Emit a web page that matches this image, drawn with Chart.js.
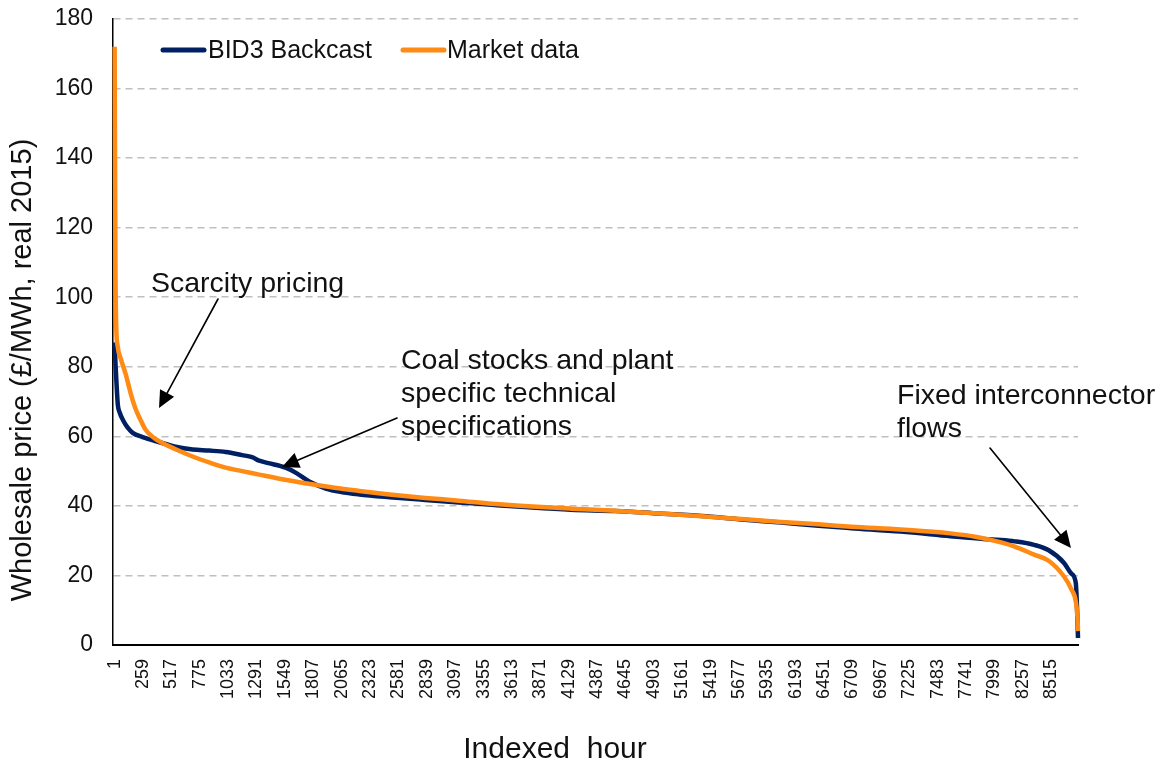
<!DOCTYPE html>
<html>
<head>
<meta charset="utf-8">
<script src="https://cdn.jsdelivr.net/npm/chart.js@4.4.1/dist/chart.umd.min.js"></script>
<style>
  html, body { margin: 0; padding: 0; background: #ffffff; }
  #wrap { width: 1167px; height: 770px; position: relative; }
</style>
</head>
<body>
<div id="wrap"><canvas id="c"></canvas></div>
<script>
// ---- Data (hour index, £/MWh) ----
const seriesNames = ["BID3 Backcast", "Market data"];

const bid3Hours = [1, 10, 20, 30, 45, 80, 120, 165, 255, 410, 555, 710, 860, 1010, 1160, 1250, 1315, 1400, 1555, 1650, 1770, 1920, 2060, 2225, 2500, 2825, 3130, 3430, 3800, 4150, 4550, 4900, 5340, 5700, 6060, 6400, 6700, 7150, 7600, 7900, 8060, 8185, 8360, 8490, 8633, 8700, 8740, 8752, 8760];
const bid3Prices = [87, 80, 74, 69, 67, 64.5, 62.5, 61, 59.8, 58.3, 57, 56.2, 55.9, 55.5, 54.6, 54, 53, 52.3, 51, 49.5, 47, 45, 44, 43.3, 42.5, 41.7, 41, 40.3, 39.5, 38.9, 38.5, 37.9, 37.1, 36.1, 35.2, 34.3, 33.6, 32.6, 31.3, 30.5, 30.2, 29.8, 28.8, 27.3, 23.6, 20.5, 17.8, 10, 2];

const marketHours = [1, 8, 15, 28, 60, 100, 150, 190, 240, 280, 340, 410, 555, 710, 860, 1010, 1160, 1315, 1500, 1735, 2000, 2225, 2500, 2825, 3130, 3430, 3800, 4150, 4550, 4900, 5340, 5700, 6060, 6400, 6700, 7150, 7600, 7850, 8060, 8185, 8360, 8490, 8633, 8700, 8740, 8755, 8760];
const marketPrices = [172, 110, 92, 86, 82, 78, 72, 68, 64.5, 62, 60, 58.5, 56.3, 54.2, 52.5, 51, 50, 49, 47.8, 46.5, 45.2, 44.3, 43.3, 42.3, 41.5, 40.6, 39.8, 39.2, 38.6, 37.9, 37, 36.2, 35.4, 34.7, 34, 33.2, 32.1, 31, 29.5, 28.3, 26, 24.3, 19.7, 16, 12.5, 8, 4];

const xTickLabels = [1, 259, 517, 775, 1033, 1291, 1549, 1807, 2065, 2323, 2581, 2839, 3097, 3355, 3613, 3871, 4129, 4387, 4645, 4903, 5161, 5419, 5677, 5935, 6193, 6451, 6709, 6967, 7225, 7483, 7741, 7999, 8257, 8515];
const yTickValues = [0, 20, 40, 60, 80, 100, 120, 140, 160, 180];

const xTitle = "Indexed  hour";
const yTitle = "Wholesale price (\u00A3/MWh, real 2015)";
const notes = [
  { lines: ["Scarcity pricing"] },
  { lines: ["Coal stocks and plant", "specific technical", "specifications"] },
  { lines: ["Fixed interconnector", "flows"] }
];

// ---- Styling ----
const NAVY = "#002063";
const ORANGE = "#FF8A14";
const FONT = "'Liberation Sans', Arial, sans-serif";

const toXY = (xs, ys) => xs.map((x, i) => ({ x: x, y: ys[i] }));

function arrow(ctx, x1, y1, x2, y2) {
  const ang = Math.atan2(y2 - y1, x2 - x1);
  const headLen = 17, headW = 8;
  const bx = x2 - headLen * Math.cos(ang), by = y2 - headLen * Math.sin(ang);
  ctx.save();
  ctx.strokeStyle = "#000"; ctx.fillStyle = "#000"; ctx.lineWidth = 1.6;
  ctx.beginPath(); ctx.moveTo(x1, y1); ctx.lineTo(bx, by); ctx.stroke();
  ctx.beginPath();
  ctx.moveTo(x2, y2);
  ctx.lineTo(bx + headW * Math.sin(ang), by - headW * Math.cos(ang));
  ctx.lineTo(bx - headW * Math.sin(ang), by + headW * Math.cos(ang));
  ctx.closePath(); ctx.fill();
  ctx.restore();
}

const overlay = {
  id: "overlay",
  afterDraw(chart) {
    const ctx = chart.ctx;
    ctx.save();
    // Legend (inside plot, top-left)
    ctx.lineCap = "round";
    ctx.lineWidth = 5;
    ctx.strokeStyle = NAVY;
    ctx.beginPath(); ctx.moveTo(163, 50); ctx.lineTo(204, 50); ctx.stroke();
    ctx.strokeStyle = ORANGE;
    ctx.beginPath(); ctx.moveTo(403, 50); ctx.lineTo(444, 50); ctx.stroke();
    ctx.fillStyle = "#111";
    ctx.font = "25px " + FONT;
    ctx.textBaseline = "middle";
    ctx.textAlign = "left";
    ctx.fillText(seriesNames[0], 208, 51);
    ctx.fillText(seriesNames[1], 447, 51);

    // Annotations
    ctx.font = "28.5px " + FONT;
    ctx.textBaseline = "alphabetic";
    ctx.fillText(notes[0].lines[0], 151, 292);
    notes[1].lines.forEach((t, i) => ctx.fillText(t, 401, 369 + i * 33));
    notes[2].lines.forEach((t, i) => ctx.fillText(t, 897, 404 + i * 33));
    arrow(ctx, 218, 299, 159, 408);
    arrow(ctx, 397, 418, 282, 467);
    arrow(ctx, 990, 448, 1071, 548);

    // Axis titles
    ctx.textAlign = "center";
    ctx.textBaseline = "middle";
    ctx.font = "30px " + FONT;
    ctx.fillText(xTitle, 555, 750);
    ctx.save();
    ctx.translate(23, 370);
    ctx.rotate(-Math.PI / 2);
    ctx.font = "29px " + FONT;
    ctx.fillText(yTitle, 0, 0);
    ctx.restore();
    ctx.restore();
  }
};

new Chart(document.getElementById("c"), {
  type: "line",
  data: {
    datasets: [
      {
        label: seriesNames[1],
        data: toXY(marketHours, marketPrices),
        borderColor: ORANGE,
        borderWidth: 4.5,
        pointRadius: 0,
        cubicInterpolationMode: "monotone",
        clip: false,
        order: 1
      },
      {
        label: seriesNames[0],
        data: toXY(bid3Hours, bid3Prices),
        borderColor: NAVY,
        borderWidth: 4.5,
        pointRadius: 0,
        cubicInterpolationMode: "monotone",
        clip: false,
        order: 2
      }
    ]
  },
  options: {
    responsive: true,
    maintainAspectRatio: false,
    animation: false,
    events: [],
    layout: { padding: { left: 0, right: 89, top: 19, bottom: 0 } },
    plugins: {
      legend: { display: false },
      tooltip: { enabled: false },
      title: { display: false }
    },
    scales: {
      x: {
        type: "linear",
        min: -14,
        max: 8760,
        afterBuildTicks: (scale) => { scale.ticks = xTickLabels.map(v => ({ value: v })); },
        afterFit: (scale) => { scale.height = 125; scale.paddingLeft = 0; scale.paddingRight = 0; },
        grid: { display: false, drawTicks: false },
        border: { display: true, color: "#000", width: 2 },
        ticks: {
          autoSkip: false,
          minRotation: 90,
          maxRotation: 90,
          padding: 14,
          color: "#111",
          font: { family: FONT, size: 18 },
          callback: (v) => String(v)
        }
      },
      y: {
        type: "linear",
        min: 0,
        max: 180,
        afterBuildTicks: (scale) => { scale.ticks = yTickValues.map(v => ({ value: v })); },
        afterFit: (scale) => { scale.width = 113; scale.paddingTop = 0; scale.paddingBottom = 0; },
        grid: {
          drawTicks: false,
          lineWidth: 1.5,
          color: (c) => (c.tick && c.tick.value === 0) ? "rgba(0,0,0,0)" : "#BFBFBF"
        },
        border: { display: true, color: "#000", width: 1.5, dash: [7, 5] },
        ticks: {
          padding: 20,
          color: "#111",
          font: { family: FONT, size: 23 },
          callback: (v) => String(v)
        }
      }
    }
  },
  plugins: [overlay]
});
</script>
</body>
</html>
